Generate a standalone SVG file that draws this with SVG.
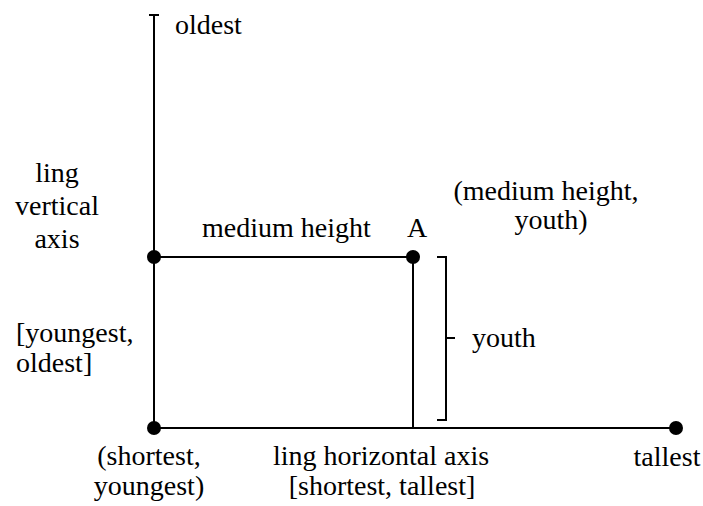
<svg xmlns="http://www.w3.org/2000/svg" width="703" height="506" viewBox="0 0 703 506">
  <style>
    .ln { stroke: #000; stroke-width: 2; fill: none; }
    .dot { fill: #000; }
    text { font-family: "Liberation Serif", "Times New Roman", serif; font-size: 28px; fill: #000; }
    .c { text-anchor: middle; }
  </style>
  <rect width="703" height="506" fill="#fff"/>

  <!-- axes and guide lines -->
  <g id="connectors">
    <line class="ln" x1="154" y1="15" x2="154" y2="428"/>
    <line class="ln" x1="149" y1="15" x2="159" y2="15"/>
    <line class="ln" x1="154" y1="428" x2="676" y2="428"/>
    <line class="ln" x1="154" y1="257" x2="413" y2="257"/>
    <line class="ln" x1="413" y1="257" x2="413" y2="428"/>
    <!-- bracket spanning the youth range -->
    <path class="ln" d="M437 257 H446 V420 H437 M446 338 H455"/>
  </g>

  <g id="origin">
    <circle class="dot" cx="154" cy="428" r="7"/>
    <text class="c" x="149" y="465">(shortest,</text>
    <text class="c" x="149" y="495">youngest)</text>
  </g>

  <g id="vertical-mid">
    <circle class="dot" cx="154" cy="257" r="7"/>
  </g>

  <g id="point-a">
    <circle class="dot" cx="413" cy="257" r="7"/>
    <text class="c" x="417" y="237">A</text>
    <text class="c" x="546" y="200">(medium height,</text>
    <text class="c" x="551" y="229">youth)</text>
  </g>

  <g id="tallest">
    <circle class="dot" cx="676" cy="428" r="7"/>
    <text class="c" x="667" y="466">tallest</text>
  </g>

  <g id="labels">
    <text x="175" y="34">oldest</text>
    <text class="c" x="57" y="182">ling</text>
    <text class="c" x="57" y="215">vertical</text>
    <text class="c" x="57" y="248">axis</text>
    <text x="202" y="237">medium height</text>
    <text x="16" y="342">[youngest,</text>
    <text x="16" y="372">oldest]</text>
    <text x="472" y="347">youth</text>
    <text class="c" x="381" y="465">ling horizontal axis</text>
    <text class="c" x="382" y="495">[shortest, tallest]</text>
  </g>
</svg>
